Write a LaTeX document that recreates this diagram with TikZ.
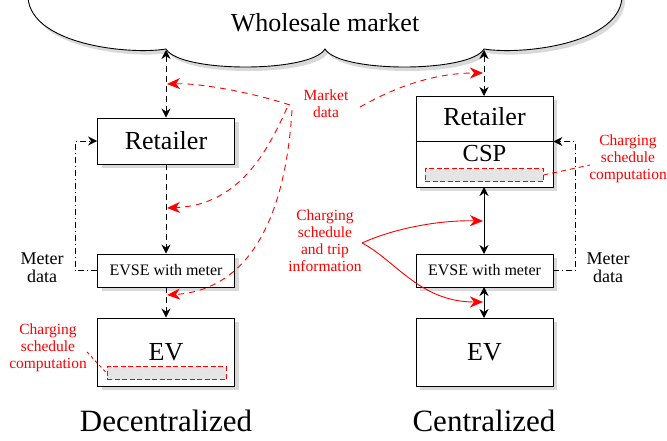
\documentclass[tikz,border=0pt]{standalone}
\usepackage{fontspec}
\setmainfont{Liberation Serif}
\usetikzlibrary{arrows.meta,shadows}

% lower outline of the market cloud (its top runs off the page)
\newcommand\cloudcurve{(28,-2) .. controls (32,45) and (130,55) .. (166,49)
  .. controls (180,73) and (311,73) .. (325,49)
  .. controls (339,73) and (470,73) .. (484,49)
  .. controls (520,55) and (618,45) .. (622,-2)}

\begin{document}
\begin{tikzpicture}[x=1pt,y=-1pt,
  shadowed/.style={drop shadow={shadow xshift=4pt,shadow yshift=-4pt,fill=black!15,opacity=1}},
  box/.style={draw=black,line width=0.9pt,fill=white,inner sep=0pt,minimum width=137pt,shadowed},
  compbox/.style={draw=red,fill=black!10,line width=0.8pt,dash pattern=on 5pt off 2.5pt,
    inner sep=0pt,minimum width=119pt,minimum height=13pt},
  bigtxt/.style={font=\fontsize{26}{30}\selectfont,inner sep=0pt},
  smalltxt/.style={font=\fontsize{16}{18}\selectfont},
  metertxt/.style={font=\fontsize{18}{18}\selectfont,align=center,inner sep=0pt},
  redlbl/.style={text=red,font=\fontsize{15.5}{17}\selectfont,align=center,inner sep=0pt},
  titletxt/.style={font=\fontsize{31}{34}\selectfont,anchor=base,inner sep=0pt},
  blk/.style={line width=0.9pt},
  blkdash/.style={blk,dash pattern=on 6pt off 4pt},
  blkdashdot/.style={blk,dash pattern=on 6pt off 3pt on 1pt off 3pt},
  redcurve/.style={red,line width=0.9pt},
  reddash/.style={redcurve,dash pattern=on 6pt off 5pt},
  tip/.tip={Stealth[length=9pt,width=9pt,inset=3pt]},
  rtip/.tip={Stealth[length=13pt,width=11pt,inset=4pt]}
]
\useasboundingbox (0,0) rectangle (667,440);

% wholesale market cloud with its shadow
\fill[black!15,shift={(3,4)}] \cloudcurve -- (622,-40) -- (28,-40) -- cycle;
\fill[white] \cloudcurve -- (622,-40) -- (28,-40) -- cycle;
\draw[line width=0.9pt] \cloudcurve;
\node[font=\fontsize{26}{30}\selectfont,anchor=base,inner sep=0pt] (market) at (325,31) {Wholesale market};
\coordinate (cuspL) at (166,50);
\coordinate (cuspR) at (484,50);

% ---------------- decentralized column ----------------
\node[box,minimum height=46pt] (retL) at (166,141) {};
\node[bigtxt] (retLtxt) at (166,141) {Retailer};
\node[box,minimum height=33pt,smalltxt] (evseL) at (166,270.5) {EVSE with meter};
\node[box,minimum height=68pt] (evL) at (166,352) {};
\node[bigtxt] (evLtxt) at (166,352) {EV};
\node[compbox] (compL) at (166.5,373) {};

\draw[blkdash,tip-tip] (cuspL) -- (retL.north);
\draw[blkdash,-tip] (retL.south) -- (evseL.north);
\draw[blkdash,-tip] (evseL.south) -- (evL.north);
\draw[blkdashdot,-tip] (evseL.west) -- ++(-22,0) |- (retL.west);
\node[metertxt] (meterL) at (42,268) {Meter\\data};

\node[redlbl] (compLlbl) at (48,348) {Charging\\schedule\\computation};
\coordinate (compLend) at (87,352);
\draw[redcurve,dash pattern=on 3pt off 3pt] (compLend) -- (compL.west);

% ---------------- centralized column ----------------
\node[box,minimum height=91pt] (retR) at (484.5,141.5) {};
\draw[line width=0.9pt] (retR.west) -- (retR.east);
\node[bigtxt] (retRtxt) at (484.5,117) {Retailer};
\node[inner sep=0pt,font=\fontsize{24.5}{28}\selectfont] (cspR) at (484.5,154) {CSP};
\node[compbox,minimum width=118pt] (compR) at (484,175) {};
\node[box,minimum height=33pt,smalltxt] (evseR) at (484.5,270.5) {EVSE with meter};
\node[box,minimum height=68pt] (evR) at (484.5,352) {};
\node[bigtxt] (evRtxt) at (484.5,352) {EV};

\draw[blkdash,tip-tip] (cuspR) -- (484,96);
\draw[blk,tip-tip] (484,187) -- (484,254);
\draw[blk,tip-tip] (484,287) -- (484,318);
\draw[blkdashdot,-tip] (evseR.east) -- ++(22,0) |- (retR.east);
\node[metertxt] (meterR) at (608,268) {Meter\\data};

\node[redlbl] (compRlbl) at (628,159) {Charging\\schedule\\computation};
\coordinate (compRend) at (590,165);
\draw[redcurve,dash pattern=on 5pt off 4pt] (compR.east) -- (compRend);

% ---------------- market data flows ----------------
\node[redlbl] (mkt) at (326,104) {Market\\data};
\coordinate (mktA) at (290,105);
\coordinate (mktB) at (287,108);
\coordinate (mktC) at (292,110);
\coordinate (mktD) at (360,107);
\coordinate (tipA) at (167,84);
\coordinate (tipB) at (167,208);
\coordinate (tipC) at (167,295);
\coordinate (tipD) at (483,73);
\draw[reddash,-rtip] (mktA) .. controls (250,92) and (200,83) .. (tipA);
\draw[reddash,-rtip] (mktB) .. controls (268,150) and (240,205) .. (tipB);
\draw[reddash,-rtip] (mktC) .. controls (285,225) and (245,290) .. (tipC);
\draw[reddash,-rtip] (mktD) .. controls (390,90) and (430,73) .. (tipD);

% ---------------- schedule and trip information ----------------
\node[redlbl] (sched) at (325,241) {Charging\\schedule\\and trip\\information};
\coordinate (schedOut) at (362,243);
\coordinate (tipE) at (483,221);
\coordinate (tipF) at (483,302);
\draw[redcurve,-rtip] (schedOut) .. controls (395,228) and (440,220) .. (tipE);
\draw[redcurve,-rtip] (schedOut) .. controls (395,260) and (420,302) .. (tipF);

% ---------------- captions ----------------
\node[titletxt] (decTitle) at (166,431) {Decentralized};
\node[titletxt] (cenTitle) at (484,431) {Centralized};
\end{tikzpicture}
\end{document}
